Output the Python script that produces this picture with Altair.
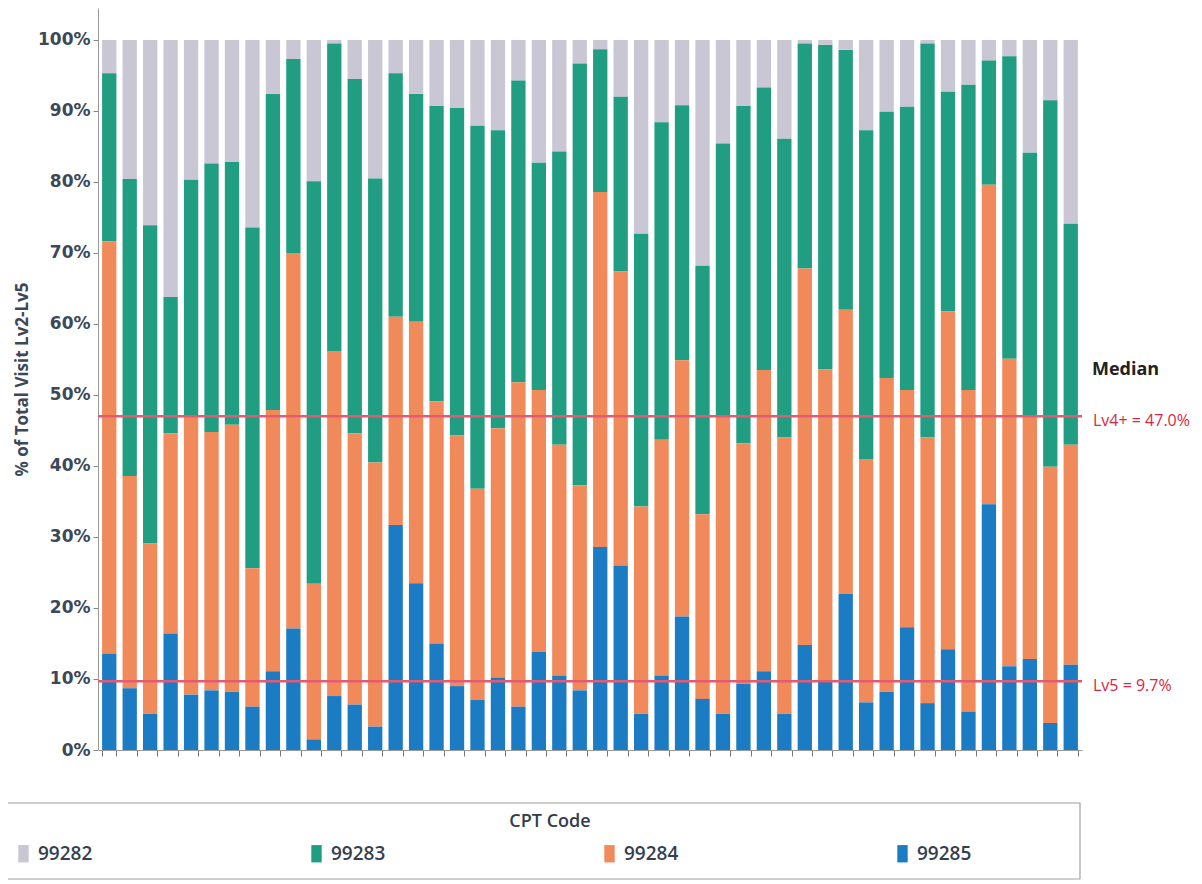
import altair as alt
import pandas as pd

# Share (%) of each CPT code per bar, left to right (48 bars)
p99285 = [13.6, 8.7, 5.1, 16.4, 7.8, 8.4, 8.2, 6.1, 11.1, 17.1, 1.5, 7.6, 6.4, 3.3, 31.7, 23.5,
          15.0, 9.0, 7.1, 10.2, 6.1, 13.8, 10.5, 8.4, 28.6, 26.0, 5.1, 10.5, 18.8, 7.2, 5.1, 9.3,
          11.1, 5.1, 14.8, 9.6, 22.0, 6.7, 8.2, 17.3, 6.6, 14.2, 5.4, 34.6, 11.8, 12.8, 3.8, 12.0]
p99284 = [58.0, 29.9, 24.0, 28.2, 39.1, 36.4, 37.6, 19.5, 36.8, 52.9, 21.9, 48.6, 38.2, 37.2, 29.3, 36.8,
          34.1, 35.3, 29.7, 35.1, 45.7, 36.9, 32.5, 28.9, 50.0, 41.4, 29.2, 33.2, 36.1, 26.0, 42.0, 33.9,
          42.4, 38.9, 53.0, 44.0, 40.0, 34.3, 44.2, 33.4, 37.4, 47.6, 45.3, 45.0, 43.3, 34.1, 36.1, 31.0]
p99283 = [23.7, 41.8, 44.8, 19.2, 33.4, 37.8, 37.0, 48.0, 44.5, 27.3, 56.7, 43.3, 49.9, 40.0, 34.3, 32.1,
          41.6, 46.1, 51.1, 42.0, 42.5, 32.0, 41.3, 59.4, 20.1, 24.6, 38.4, 44.7, 35.9, 35.0, 38.3, 47.5,
          39.8, 42.1, 31.7, 45.7, 36.6, 46.3, 37.5, 39.9, 55.5, 30.9, 43.0, 17.5, 42.6, 37.2, 51.6, 31.1]
p99282 = [4.7, 19.6, 26.1, 36.2, 19.7, 17.4, 17.2, 26.4, 7.6, 2.7, 19.9, 0.5, 5.5, 19.5, 4.7, 7.6,
          9.3, 9.6, 12.1, 12.7, 5.7, 17.3, 15.7, 3.3, 1.3, 8.0, 27.3, 11.6, 9.2, 31.8, 14.6, 9.3,
          6.7, 13.9, 0.5, 0.7, 1.4, 12.7, 10.1, 9.4, 0.5, 7.3, 6.3, 2.9, 2.3, 15.9, 8.5, 25.9]

codes = ["99282", "99283", "99284", "99285"]
code_colors = ["#c9c7d3", "#219e82", "#f18a5b", "#1b7cc4"]

median_values = [0.47, 0.097]
median_labels = ["Lv4+ = 47.0%", "Lv5 = 9.7%"]

rows = []
series = {"99282": p99282, "99283": p99283, "99284": p99284, "99285": p99285}
for code in codes:
    for i, v in enumerate(series[code]):
        rows.append({"bar": i + 1, "code": code, "share": v / 100.0})
df = pd.DataFrame(rows)

W, H = 984, 742
label_color = "#3c4858"

bars = alt.Chart(df).mark_bar().encode(
    x=alt.X("bar:O", title=None,
            scale=alt.Scale(paddingInner=0.3, paddingOuter=0.2),
            axis=alt.Axis(labels=False, tickBand="extent", tickSize=6, tickColor="#777",
                          domainColor="#999", title=None)),
    y=alt.Y("share:Q", stack="zero",
            scale=alt.Scale(domain=[0, 1.045], nice=False),
            axis=alt.Axis(values=[0, 0.1, 0.2, 0.3, 0.4, 0.5, 0.6, 0.7, 0.8, 0.9, 1.0],
                          format=".0%", grid=False, title="% of Total Visit Lv2-Lv5",
                          labelFont="DejaVu Sans", labelFontSize=17, labelFontWeight="bold",
                          labelColor=label_color, tickSize=5, tickColor="#888",
                          domainColor="#999", titleFont="Open Sans", titleFontSize=17,
                          titleFontWeight="bold", titleColor=label_color, titlePadding=6,
                          labelPadding=3)),
    color=alt.Color("code:N",
                    scale=alt.Scale(domain=codes, range=code_colors),
                    legend=alt.Legend(orient="none", legendX=-84, legendY=836,
                                      direction="horizontal", columns=4, columnPadding=214,
                                      title=None, symbolType="M-0.6,-1H0.6V1H-0.6Z",
                                      symbolSize=300, symbolStrokeWidth=0,
                                      labelFont="Open Sans", labelFontSize=19,
                                      labelFontWeight=600,
                                      labelColor="#34404f", labelOffset=5, padding=0)),
    order=alt.Order("code:N", sort="descending"),
)

med_df = pd.DataFrame({"y": median_values, "label": median_labels})
rules = alt.Chart(med_df).mark_rule(color="#e35b73", strokeWidth=2.5).encode(y="y:Q")
med_text = alt.Chart(med_df).mark_text(align="left", baseline="middle", dx=0, dy=5,
                                       font="Open Sans", fontSize=16, color="#d8283f").encode(
    y="y:Q", x=alt.value(W + 11), text="label:N")

head_df = pd.DataFrame({"y": [median_values[0]], "label": ["Median"]})
head_text = alt.Chart(head_df).mark_text(align="left", baseline="middle", dy=-46,
                                         font="Open Sans", fontSize=18, fontWeight="bold",
                                         color="#222222").encode(
    y="y:Q", x=alt.value(W + 10), text="label:N")

box_df = pd.DataFrame({"t": ["CPT Code"]})
box = alt.Chart(box_df).mark_rect(fill="white", stroke="#a0a0a0", strokeWidth=1.2).encode(
    x=alt.value(-93), x2=alt.value(982), y=alt.value(795), y2=alt.value(871))
box_title = alt.Chart(box_df).mark_text(align="center", baseline="middle", font="Open Sans",
                                        fontSize=18, fontWeight=600, color="#333d4a").encode(
    x=alt.value(452), y=alt.value(814), text="t:N")

chart = alt.layer(box, box_title, bars, rules, med_text, head_text).properties(
    width=W, height=H,
    background="white",
    autosize=alt.AutoSizeParams(type="none"),
    padding={"left": 90, "top": 0, "right": 110, "bottom": 132},
).configure_view(strokeWidth=0)

chart.save("out.html", embed_options={"renderer": "svg", "actions": False})
